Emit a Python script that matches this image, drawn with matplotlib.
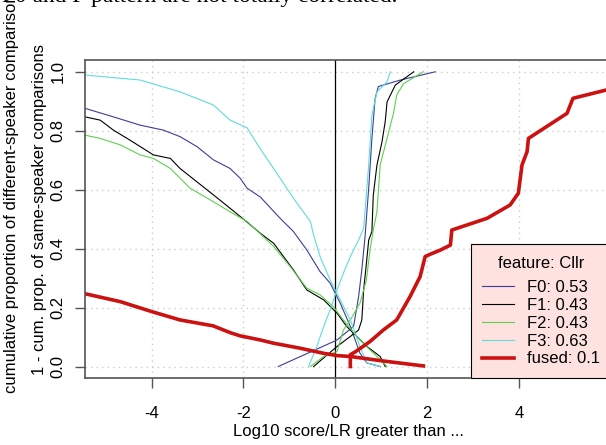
import matplotlib
matplotlib.use('Agg')
import matplotlib.pyplot as plt

plt.rcParams['font.family'] = ['Liberation Sans', 'DejaVu Sans']
plt.rcParams['axes.unicode_minus'] = False

# curvas (x = log10 LR, y = proporcion)
f0_down_x = [-5.45, -4.83, -4.25, -3.74, -3.38, -3.01, -2.65, -2.29, -2.07, -1.92, -1.63, -1.2, -0.91, -0.62, -0.33, -0.11, 0.11, 0.33, 0.54, 0.69, 0.98]
f0_down_y = [0.876, 0.847, 0.819, 0.802, 0.78, 0.746, 0.701, 0.672, 0.639, 0.605, 0.575, 0.503, 0.458, 0.396, 0.322, 0.283, 0.215, 0.136, 0.045, 0.012, 0.0]
f1_down_x = [-5.45, -5.12, -4.83, -4.47, -3.96, -3.59, -3.38, -2.65, -2.29, -1.92, -1.63, -1.34, -0.91, -0.62, -0.25, 0.04, 0.25, 0.47, 0.69, 0.98, 1.05, 1.09]
f1_down_y = [0.847, 0.836, 0.802, 0.768, 0.718, 0.706, 0.672, 0.582, 0.537, 0.49, 0.452, 0.418, 0.328, 0.26, 0.226, 0.181, 0.136, 0.102, 0.068, 0.034, 0.012, 0.0]
f2_down_x = [-5.45, -5.12, -4.68, -4.25, -3.96, -3.59, -3.16, -2.65, -2.29, -1.92, -1.63, -1.34, -0.98, -0.62, -0.33, -0.04, 0.18, 0.47, 0.76, 0.98, 1.13]
f2_down_y = [0.785, 0.774, 0.752, 0.718, 0.706, 0.672, 0.605, 0.559, 0.525, 0.492, 0.45, 0.407, 0.339, 0.266, 0.243, 0.203, 0.158, 0.102, 0.056, 0.023, 0.0]
f3_down_x = [-5.45, -4.25, -3.38, -2.65, -2.29, -1.92, -1.63, -1.2, -0.91, -0.54, -0.47, -0.33, -0.11, 0.11, 0.33, 0.54, 0.69, 0.98]
f3_down_y = [0.989, 0.972, 0.932, 0.887, 0.836, 0.81, 0.738, 0.639, 0.571, 0.492, 0.446, 0.373, 0.294, 0.226, 0.158, 0.068, 0.012, 0.0]

f0_up_x = [-1.24, 0.04, 0.4, 0.51, 0.58, 0.65, 0.73, 0.8, 0.87, 0.94, 1.42, 2.18]
f0_up_y = [0.0, 0.09, 0.136, 0.237, 0.328, 0.44, 0.605, 0.774, 0.91, 0.95, 0.972, 1.0]
f1_up_x = [-0.47, 0.04, 0.33, 0.51, 0.58, 0.62, 0.68, 0.73, 0.8, 0.83, 0.91, 1.02, 1.09, 1.13, 1.31, 1.71]
f1_up_y = [0.0, 0.068, 0.102, 0.124, 0.158, 0.26, 0.35, 0.429, 0.458, 0.582, 0.684, 0.763, 0.831, 0.898, 0.955, 1.0]
f2_up_x = [-0.54, -0.25, 0.04, 0.18, 0.33, 0.54, 0.68, 0.76, 0.83, 0.91, 0.98, 1.13, 1.27, 1.34, 1.49, 1.92]
f2_up_y = [0.0, 0.034, 0.051, 0.124, 0.158, 0.215, 0.294, 0.396, 0.463, 0.525, 0.684, 0.774, 0.859, 0.921, 0.96, 1.0]
f3_up_x = [-0.58, -0.4, -0.25, -0.11, 0.04, 0.18, 0.33, 0.51, 0.62, 0.73, 0.8, 0.91, 1.13, 1.2]
f3_up_y = [0.0, 0.068, 0.136, 0.192, 0.26, 0.317, 0.373, 0.429, 0.469, 0.684, 0.853, 0.932, 0.966, 1.0]

fused_down_x = [-5.45, -4.68, -3.99, -3.38, -2.66, -2.29, -2.07, -1.63, -1.34, -0.76, -0.26, 0.04, 0.33, 0.98, 1.92]
fused_down_y = [0.247, 0.22, 0.186, 0.158, 0.138, 0.115, 0.104, 0.09, 0.079, 0.062, 0.045, 0.037, 0.034, 0.02, 0.002]
fused_up_x = [0.33, 0.33, 0.44, 0.76, 1.05, 1.34, 1.63, 1.85, 1.96, 2.07, 2.29, 2.51, 2.54, 3.31, 3.81, 3.99, 4.07, 4.18, 4.21, 5.05, 5.18, 5.9, 6.3]
fused_up_y = [0.0, 0.04, 0.05, 0.085, 0.124, 0.158, 0.237, 0.305, 0.373, 0.381, 0.395, 0.412, 0.463, 0.503, 0.548, 0.588, 0.684, 0.729, 0.774, 0.859, 0.91, 0.938, 0.95]

labels = ['F0: 0.53', 'F1: 0.43', 'F2: 0.43', 'F3: 0.63', 'fused: 0.1']
colores = ['#3d3d99', '#000000', '#5fcf4f', '#5fdcdc', '#cc1111']

fig = plt.figure(figsize=(6.06, 4.45), dpi=100)
W, H = 606, 445
ax = fig.add_axes([85 / W, (H - 378) / H, (612 - 85) / W, (378 - 60) / H])

ax.set_xlim(-5.45, 6.03)
ax.set_ylim(-0.039, 1.04)
ax.set_xticks([-4, -2, 0, 2, 4])
ax.set_yticks([0.0, 0.2, 0.4, 0.6, 0.8, 1.0])
ax.set_yticklabels(['0.0', '0.2', '0.4', '0.6', '0.8', '1.0'])
ax.grid(True, color='#cccccc', linestyle=(0, (1, 3)), linewidth=1)
ax.set_axisbelow(True)
ax.axvline(0, color='black', linewidth=0.9)

curvas = [(f0_down_x, f0_down_y, f0_up_x, f0_up_y),
          (f1_down_x, f1_down_y, f1_up_x, f1_up_y),
          (f2_down_x, f2_down_y, f2_up_x, f2_up_y),
          (f3_down_x, f3_down_y, f3_up_x, f3_up_y)]
for (dx, dy, ux, uy), lab, col in zip(curvas, labels[:4], colores[:4]):
    ax.plot(dx, dy, color=col, linewidth=0.8, label=lab)
    ax.plot(ux, uy, color=col, linewidth=0.8)
ax.plot(fused_down_x, fused_down_y, color=colores[4], linewidth=2.6, label=labels[4])
ax.plot(fused_up_x, fused_up_y, color=colores[4], linewidth=2.6)

for s in ax.spines.values():
    s.set_color('#555555')
    s.set_linewidth(1.2)
ax.tick_params(colors='#555555', length=7, width=1, labelsize=12, labelcolor='black')
ax.tick_params(axis='x', pad=13)
ax.tick_params(axis='y', pad=7)
for t in ax.get_yticklabels():
    t.set_rotation(90)
    t.set_va('center')

ax.set_xlabel('Log10 score/LR greater than ...', fontsize=12, labelpad=2)

leg = ax.legend(title='feature: Cllr', loc='lower right', bbox_to_anchor=(1, 0),
                borderaxespad=0, fontsize=12, title_fontsize=12, fancybox=False,
                handlelength=1.9, handletextpad=0.8, labelspacing=0.17,
                borderpad=0.7, framealpha=1)
leg._legend_box.sep = 0.17 * 12 + 4.5
leg.get_frame().set_facecolor('#fde2e0')
leg.get_frame().set_edgecolor('black')
leg.get_frame().set_linewidth(0.8)

fig.text(12 / W, (H - 393) / H, 'cumulative proportion of different-speaker comparisons ~',
         rotation=90, ha='center', va='bottom', fontsize=12)
fig.text(40 / W, (H - 375) / H, '1 - cum. prop. of same-speaker comparisons',
         rotation=90, ha='center', va='bottom', fontsize=12)

fig.text(2 / W, 1 - 2 / H, 'F0 and F pattern are not totally correlated.',
         family='Liberation Serif', fontsize=16.8, ha='left', va='baseline')

plt.savefig('out.png', dpi=100)
